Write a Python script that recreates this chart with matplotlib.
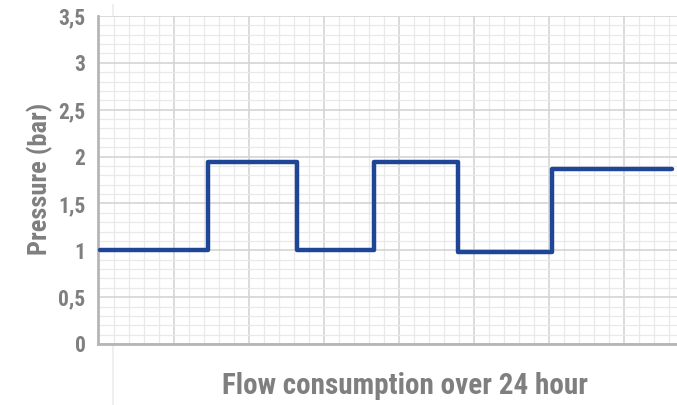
import numpy as np
import matplotlib
matplotlib.use('Agg')
import matplotlib.pyplot as plt
from matplotlib.ticker import MultipleLocator, FixedLocator

# Data (x in grid-units, y in bar)
step_x = [0.03, 1.47, 2.65, 3.68, 4.80, 6.05, 7.65]
step_y = [1.00, 1.94, 1.00, 1.94, 0.98, 1.87, 1.87]
y_ticks = [0, 0.5, 1, 1.5, 2, 2.5, 3, 3.5]
y_ticklabels = ['0', '0,5', '1', '1,5', '2', '2,5', '3', '3,5']

plt.rcParams['font.family'] = ['Roboto Condensed', 'DejaVu Sans']
plt.rcParams['font.weight'] = 'bold'
grey = '#7f7f7f'

fig = plt.figure(figsize=(6.77, 4.05), dpi=100)
ax = fig.add_axes([98/677, 61/405, 1 - 98/677, 328/405])

ax.step(step_x, step_y, where='post', color='#1f4596', lw=3.2,
        solid_capstyle='round', solid_joinstyle='round', zorder=3)

ax.set_xlim(0, 579/75)
ax.set_ylim(0, 3.5)
ax.xaxis.set_major_locator(FixedLocator(np.arange(76/75, 8, 1)))
ax.xaxis.set_minor_locator(FixedLocator(np.arange(16/75, 7.8, 0.2)))
ax.yaxis.set_major_locator(FixedLocator(y_ticks))
ax.yaxis.set_minor_locator(MultipleLocator(0.1))
ax.set_yticklabels(y_ticklabels)
ax.tick_params(axis='x', which='both', length=0, labelbottom=False)
ax.tick_params(axis='y', which='both', length=0, labelsize=15.5, labelcolor=grey, pad=9)

ax.grid(which='major', color='#d4d4d4', lw=1.2)
ax.grid(which='minor', color='#e9e9e9', lw=0.9)
ax.set_axisbelow(True)

for s in ['top', 'right']:
    ax.spines[s].set_visible(False)
for s in ['left', 'bottom']:
    ax.spines[s].set_color('#b5b5b5')
    ax.spines[s].set_linewidth(2)

fig.text(40/677, 1 - 179/405, 'Pressure (bar)', fontsize=19, rotation=90,
         color=grey, ha='center', va='center', fontweight='bold')
fig.text(405/677, 11/405, 'Flow consumption over 24 hour', fontsize=21,
         color=grey, ha='center', va='baseline', fontweight='bold')

# faint vertical guide line left over in the original
fig.add_artist(plt.Line2D([113/677, 113/677], [0, 1 - 5/405], color='#ececec', lw=1.2, zorder=0))

fig.savefig('out.png', dpi=100)
